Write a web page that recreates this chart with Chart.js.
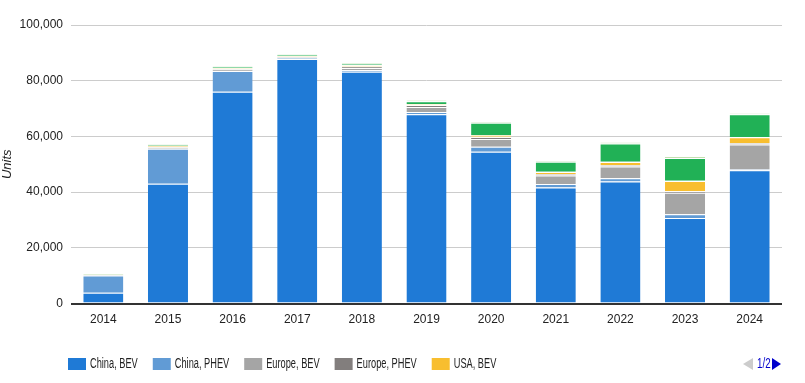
<!DOCTYPE html>
<html>
<head>
<meta charset="utf-8">
<script src="https://cdn.jsdelivr.net/npm/chart.js@4/dist/chart.umd.min.js"></script>
<style>
html,body{margin:0;padding:0;background:#fff;}
#wrap{width:805px;height:383px;position:relative;}
</style>
</head>
<body>
<div id="wrap"><canvas id="c" width="805" height="383"></canvas></div>
<script>
const years = ['2014','2015','2016','2017','2018','2019','2020','2021','2022','2023','2024'];
const chinaBEV   = [3.9, 43.0, 76.0, 87.8, 83.2, 68.0, 54.5, 41.7, 43.8, 30.7, 47.9];
const chinaPHEV  = [6.2, 12.6, 7.5, 0.3, 0.6, 0.8, 1.8, 1.2, 1.2, 1.4, 0.2];
const europeBEV  = [0.1, 0.4, 0.5, 0.3, 0.8, 1.8, 2.8, 3.1, 4.2, 7.7, 9.0];
const europePHEV = [0.1, 0.3, 0.3, 0.2, 0.5, 0.6, 0.6, 0.5, 0.5, 0.5, 0.5];
const usaBEV     = [0.0, 0.3, 0.2, 0.2, 0.4, 0.3, 0.5, 0.7, 1.1, 3.7, 2.1];
const usaPHEV    = [0.0, 0.1, 0.1, 0.1, 0.1, 0.1, 0.2, 0.1, 0.1, 0.1, 0.1];
const rowBEV     = [0.0, 0.3, 0.3, 0.3, 0.4, 1.0, 4.5, 3.6, 6.6, 8.2, 8.2];
const rowPHEV    = [0.3, 0.3, 0.3, 0.3, 0.3, 0.5, 0.3, 0.3, 0.4, 0.6, 0.3];
const yTicks = [0, 20000, 40000, 60000, 80000, 100000];

const k = a => a.map(v => v * 1000);
const series = [
  ['China, BEV', chinaBEV, '#1f7ad6'],
  ['China, PHEV', chinaPHEV, '#619bd5'],
  ['Europe, BEV', europeBEV, '#a5a5a5'],
  ['Europe, PHEV', europePHEV, '#827e7d'],
  ['USA, BEV', usaBEV, '#f8be2f'],
  ['USA, PHEV', usaPHEV, '#f9dc8e'],
  ['Rest of World, BEV', rowBEV, '#21b156'],
  ['Rest of World, PHEV', rowPHEV, '#c3dfb0']
];
const FONT = '"Liberation Sans", Arial, sans-serif';

// Paged legend (page 1 of 2), drawn from the chart's own datasets
const pagedLegend = {
  id: 'pagedLegend',
  afterDraw(chart) {
    const ctx = chart.ctx;
    const y = 364, sx = 0.66, perPage = 5;
    ctx.save();
    ctx.font = '14px ' + FONT;
    ctx.textBaseline = 'middle';
    ctx.textAlign = 'left';
    let x = 68;
    chart.data.datasets.slice(0, perPage).forEach(ds => {
      ctx.fillStyle = ds.backgroundColor;
      ctx.fillRect(x, y - 6, 18, 12);
      const tx = x + 22;
      ctx.fillStyle = '#222';
      ctx.save();
      ctx.translate(tx, y);
      ctx.scale(sx, 1);
      ctx.fillText(ds.label, 0, 0);
      ctx.restore();
      x = tx + ctx.measureText(ds.label).width * sx + 15;
    });
    // pager
    ctx.fillStyle = '#cccccc';
    ctx.beginPath(); ctx.moveTo(743, y); ctx.lineTo(753, y - 6); ctx.lineTo(753, y + 6); ctx.closePath(); ctx.fill();
    ctx.fillStyle = '#0000cc';
    ctx.save();
    ctx.translate(757, y);
    ctx.scale(0.7, 1);
    ctx.fillText('1/2', 0, 0);
    ctx.restore();
    ctx.beginPath(); ctx.moveTo(772, y - 6); ctx.lineTo(781, y); ctx.lineTo(772, y + 6); ctx.closePath(); ctx.fill();
    ctx.restore();
  }
};

Chart.defaults.font.family = FONT;
Chart.defaults.font.size = 13;
Chart.defaults.color = '#222';

new Chart(document.getElementById('c'), {
  type: 'bar',
  data: {
    labels: years,
    datasets: series.map(([name, vals, col]) => ({
      label: name,
      data: k(vals),
      backgroundColor: col,
      borderColor: '#ffffff',
      borderWidth: {top: 1, bottom: 0, left: 0, right: 0},
      borderSkipped: false,
      categoryPercentage: 1,
      barPercentage: 0.62
    }))
  },
  options: {
    responsive: false,
    animation: false,
    layout: {padding: {top: 25, right: 23, left: 0, bottom: 47}},
    plugins: {
      tooltip: {enabled: false},
      legend: {display: false}
    },
    scales: {
      x: {
        stacked: true,
        grid: {display: false, drawTicks: false},
        border: {display: false},
        ticks: {padding: 9, font: {size: 12}, color: '#222'}
      },
      y: {
        stacked: true,
        min: 0, max: 100000,
        afterBuildTicks: s => { s.ticks = yTicks.map(v => ({value: v})); },
        afterFit: s => { s.width = 71; },
        grid: {
          color: c => c.tick && c.tick.value === 0 ? '#333333' : '#cccccc',
          lineWidth: c => c.tick && c.tick.value === 0 ? 2 : 1,
          drawTicks: false
        },
        border: {display: false},
        ticks: {
          padding: 8, font: {size: 12}, color: '#222',
          callback: v => v.toLocaleString('en-US')
        },
        title: {display: true, text: 'Units', font: {size: 13, style: 'italic'}, padding: {top: 0, bottom: 4}}
      }
    }
  },
  plugins: [pagedLegend]
});
</script>
</body>
</html>
